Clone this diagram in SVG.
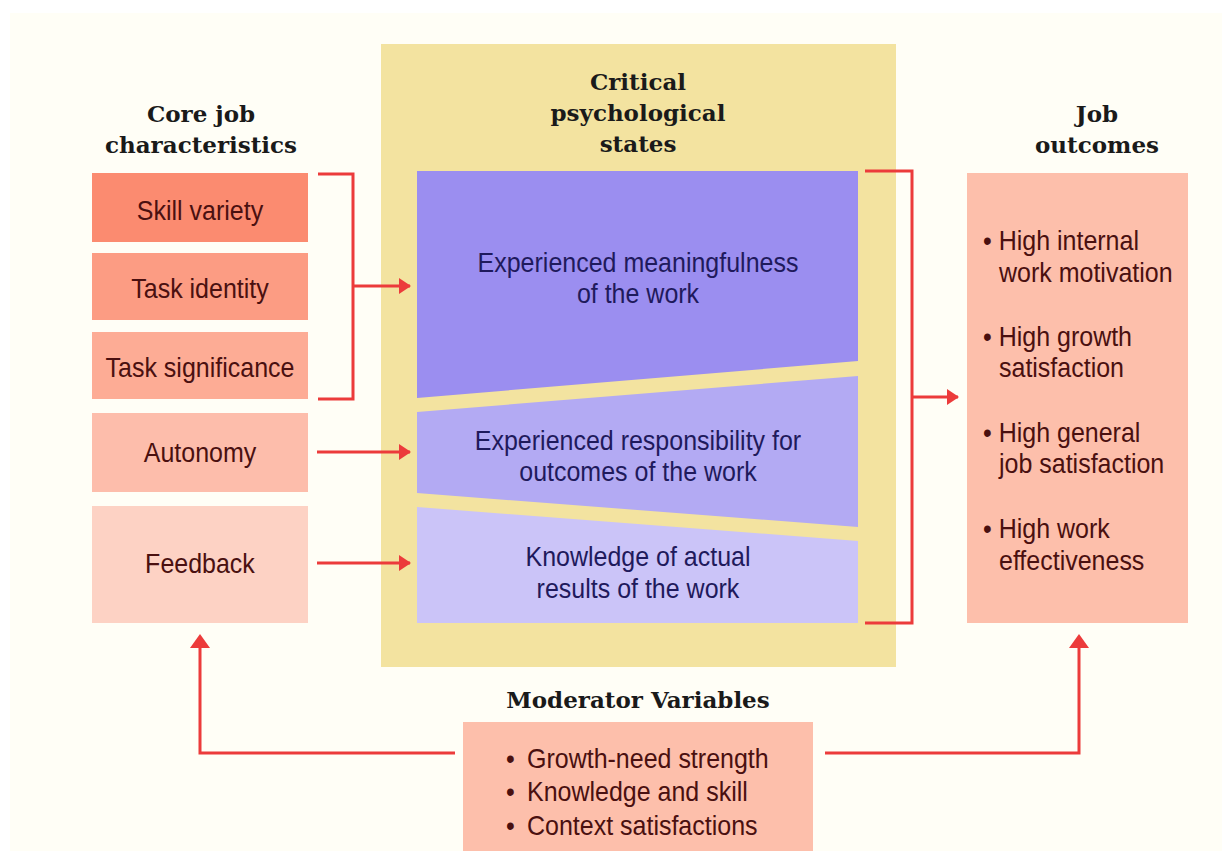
<svg xmlns="http://www.w3.org/2000/svg" width="1231" height="851" viewBox="0 0 1231 851">
<style>
.hdr{font-family:"DejaVu Serif","Liberation Serif",serif;font-weight:bold;font-size:23px;fill:#1a1a1a;text-anchor:middle}
.lbl{font-family:"Liberation Sans",Arial,sans-serif;font-size:25px;fill:#4a1010;text-anchor:middle}
.st{font-family:"Liberation Sans",Arial,sans-serif;font-size:25px;fill:#1f1a5c;text-anchor:middle}
.out{font-family:"Liberation Sans",Arial,sans-serif;font-size:25px;fill:#4a1010}
.ln{fill:none;stroke:#ec3b3b;stroke-width:3}
</style>
<defs>
<marker id="ah" viewBox="0 0 12 16" refX="11" refY="8" markerWidth="12" markerHeight="16" markerUnits="userSpaceOnUse" orient="auto">
<path d="M0,0 L12,8 L0,16 Z" fill="#ec3b3b"/>
</marker>
</defs>
<rect x="0" y="0" width="1231" height="851" fill="#ffffff"/>
<rect x="10" y="13" width="1212" height="838" fill="#fffef6"/>

<g id="core-header">
<text class="hdr" x="201" y="122">Core job</text>
<text class="hdr" x="201" y="153">characteristics</text>
</g>
<g id="skill-variety"><rect x="92" y="173" width="216" height="69" fill="#fb8b70"/><text class="lbl" x="200" y="220" transform="matrix(1 0 0 1.1 0 -22)">Skill variety</text></g>
<g id="task-identity"><rect x="92" y="253" width="216" height="67" fill="#fc9c83"/><text class="lbl" x="200" y="298" transform="matrix(1 0 0 1.1 0 -29.8)">Task identity</text></g>
<g id="task-significance"><rect x="92" y="332" width="216" height="67" fill="#fdac95"/><text class="lbl" x="200" y="377" transform="matrix(1 0 0 1.1 0 -37.7)">Task significance</text></g>
<g id="autonomy"><rect x="92" y="413" width="216" height="79" fill="#fdbdab"/><text class="lbl" x="200" y="462" transform="matrix(1 0 0 1.1 0 -46.2)">Autonomy</text></g>
<g id="feedback"><rect x="92" y="506" width="216" height="117" fill="#fdd2c4"/><text class="lbl" x="200" y="573" transform="matrix(1 0 0 1.1 0 -57.3)">Feedback</text></g>

<g id="critical-states">
<rect x="381" y="44" width="515" height="623" fill="#f3e3a0"/>
<text class="hdr" x="638" y="90">Critical</text>
<text class="hdr" x="638" y="121">psychological</text>
<text class="hdr" x="638" y="152">states</text>
</g>
<g id="meaningfulness">
<polygon points="417,171 858,171 858,361 417,398" fill="#9b8ef0"/>
<text class="st" x="638" y="272" transform="matrix(1 0 0 1.1 0 -27.2)">Experienced meaningfulness</text>
<text class="st" x="638" y="303" transform="matrix(1 0 0 1.1 0 -30.3)">of the work</text>
</g>
<g id="responsibility">
<polygon points="417,412 858,376 858,527 417,493" fill="#b3aaf3"/>
<text class="st" x="638" y="450" transform="matrix(1 0 0 1.1 0 -45)">Experienced responsibility for</text>
<text class="st" x="638" y="481" transform="matrix(1 0 0 1.1 0 -48.1)">outcomes of the work</text>
</g>
<g id="knowledge">
<polygon points="417,507 858,541 858,623 417,623" fill="#cbc4f8"/>
<text class="st" x="638" y="566" transform="matrix(1 0 0 1.1 0 -56.6)">Knowledge of actual</text>
<text class="st" x="638" y="598" transform="matrix(1 0 0 1.1 0 -59.8)">results of the work</text>
</g>

<g id="outcomes-header">
<text class="hdr" x="1097" y="122">Job</text>
<text class="hdr" x="1097" y="153">outcomes</text>
</g>
<g id="job-outcomes">
<rect x="967" y="173" width="221" height="450" fill="#fdbfab"/>
<text class="out" x="983" y="250" transform="matrix(1 0 0 1.1 0 -25)">• High internal</text>
<text class="out" x="999" y="282" transform="matrix(1 0 0 1.1 0 -28.2)">work motivation</text>
<text class="out" x="983" y="346" transform="matrix(1 0 0 1.1 0 -34.6)">• High growth</text>
<text class="out" x="999" y="377" transform="matrix(1 0 0 1.1 0 -37.7)">satisfaction</text>
<text class="out" x="983" y="442" transform="matrix(1 0 0 1.1 0 -44.2)">• High general</text>
<text class="out" x="999" y="473" transform="matrix(1 0 0 1.1 0 -47.3)">job satisfaction</text>
<text class="out" x="983" y="538" transform="matrix(1 0 0 1.1 0 -53.8)">• High work</text>
<text class="out" x="999" y="570" transform="matrix(1 0 0 1.1 0 -57)">effectiveness</text>
</g>

<g id="moderators">
<text class="hdr" x="638" y="708">Moderator Variables</text>
<rect x="463" y="722" width="350" height="129" fill="#fdbfab"/>
<text class="out" x="506" y="768" transform="matrix(1 0 0 1.1 0 -76.8)">•<tspan x="527">Growth-need strength</tspan></text>
<text class="out" x="506" y="801" transform="matrix(1 0 0 1.1 0 -80.1)">•<tspan x="527">Knowledge and skill</tspan></text>
<text class="out" x="506" y="835" transform="matrix(1 0 0 1.1 0 -83.5)">•<tspan x="527">Context satisfactions</tspan></text>
</g>

<g id="connectors">
<polyline class="ln" points="318,174 353,174 353,399 318,399"/>
<line class="ln" x1="353" y1="286" x2="410" y2="286" marker-end="url(#ah)"/>
<line class="ln" x1="317" y1="452" x2="410" y2="452" marker-end="url(#ah)"/>
<line class="ln" x1="317" y1="563" x2="410" y2="563" marker-end="url(#ah)"/>
<polyline class="ln" points="865,171 912,171 912,623 865,623"/>
<line class="ln" x1="912" y1="397" x2="958" y2="397" marker-end="url(#ah)"/>
<polyline class="ln" points="455,753 200,753 200,645"/>
<path d="M200,634 L210,648 L190,648 Z" fill="#ec3b3b"/>
<polyline class="ln" points="825,753 1079,753 1079,645"/>
<path d="M1079,634 L1089,648 L1069,648 Z" fill="#ec3b3b"/>
</g>
</svg>
